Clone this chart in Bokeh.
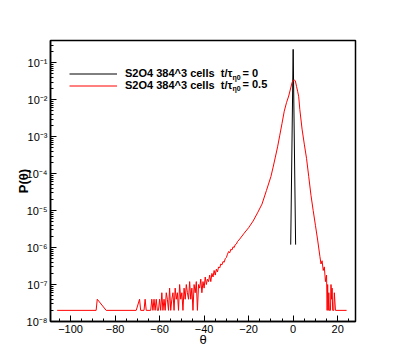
from bokeh.plotting import figure
from bokeh.models import (FixedTicker, CustomJSTickFormatter, Legend, LegendItem, Label)
from bokeh.embed import file_html
from bokeh.resources import INLINE

# ---------------- data ----------------
# t/tau = 0 : initial (delta-like) PDF
theta_t0 = [-1.1, 0.0, 1.1]
p_t0 = [1.2e-6, 2.3e-1, 1.2e-6]

# t/tau = 0.5 : evolved PDF
theta_t05 = [
    -106.0, -88.5, -88.0, -84.0, -70.5, -69.0, -68.5, -67.0, -66.5, -66.0,
    -64.0, -63.5, -63.0, -62.5,
    -62.0, -61.5, -61.0, -60.5, -60.0, -59.5, -59.0, -58.5, -58.0, -57.5,
    -57.0, -56.5, -56.0, -55.5, -55.0, -54.5, -54.0, -53.5, -53.0, -52.5,
    -52.0, -51.5, -51.0, -50.5, -50.0, -49.5, -49.0, -48.5, -48.0, -47.5,
    -47.0, -46.5, -46.0, -45.5, -45.0, -44.5, -44.0, -43.5, -43.0, -42.5,
    -42.0, -41.5, -41.0, -40.5, -40.0, -39.5, -39.0, -38.5, -38.0, -37.5,
    -37.0, -36.5, -36.0, -35.5, -35.0, -34.5, -34.0, -33.5, -33.0, -32.5,
    -32.0, -31.5, -31.0, -30.5, -30.0, -29.5, -29.0, -28.5, -28.0, -27.5,
    -27.0, -26.5, -26.0, -25.5, -25.0, -24.0, -22.0, -20.0, -18.0, -16.0,
    -14.0, -12.0, -10.0, -9.0, -8.0, -7.0, -6.0, -5.0, -4.0, -3.0,
    -2.0, -1.0, -0.5, 0.0, 0.5, 1.0, 1.5, 2.0, 2.5, 3.0,
    4.0, 5.0, 6.0, 7.0, 8.0, 9.0, 10.0, 11.0, 12.0, 12.5,
    13.0, 13.5, 14.0, 14.5, 15.0, 15.25, 15.5, 15.75, 16.0, 16.25,
    16.75, 17.0, 17.25, 17.5, 17.75, 18.25, 18.5, 19.0, 24.0,
]
p_t05 = [
    2e-8, 2e-8, 4e-8, 2e-8, 2e-8, 4e-8, 2e-8, 2e-8, 4e-8, 2e-8,
    2e-8, 4e-8, 2e-8, 4e-8,
    2e-8, 4e-8, 2e-8, 2e-8, 4e-8, 2e-8, 6e-8, 2e-8, 4e-8, 2e-8,
    6e-8, 4e-8, 2e-8, 8e-8, 2e-8, 4e-8, 6e-8, 2e-8, 8e-8, 4e-8,
    6e-8, 2e-8, 1e-7, 4e-8, 6e-8, 2e-8, 8e-8, 4e-8, 1e-7, 6e-8,
    4e-8, 1.2e-7, 4e-8, 8e-8, 2e-8, 1e-7, 6e-8, 1.2e-7, 2e-8, 1e-7,
    8e-8, 1.4e-7, 6e-8, 1.2e-7, 8e-8, 1.6e-7, 1e-7, 1.4e-7, 1.2e-7, 1.8e-7,
    1.2e-7, 2e-7, 1.6e-7, 2.4e-7, 1.8e-7, 2.6e-7, 2.2e-7, 3e-7, 2.8e-7, 3.6e-7,
    3.4e-7, 4.2e-7, 4e-7, 5e-7, 5.4e-7, 6.6e-7, 7.8e-7, 7.2e-7, 9e-7, 8.6e-7,
    1.05e-6, 1.0e-6, 1.2e-6, 1.25e-6, 1.45e-6, 1.7e-6, 2.45e-6, 3.45e-6, 5.2e-6, 8.7e-6,
    1.5e-5, 3.5e-5, 8.3e-5, 1.5e-4, 2.8e-4, 5.3e-4, 1.1e-3, 2.3e-3, 4.9e-3, 8.3e-3,
    1.26e-2, 2.2e-2, 2.9e-2, 3.3e-2, 3.45e-2, 3.2e-2, 2.3e-2, 1.7e-2, 1.2e-2, 5.4e-3,
    1.6e-3, 6.3e-4, 2.6e-4, 8.3e-5, 2.6e-5, 1e-5, 4e-6, 1.6e-6, 5.8e-7, 3.6e-7,
    4.4e-7, 2.4e-7, 3.0e-7, 1.2e-7, 1.8e-7, 2e-8, 1e-7, 2e-8, 6e-8, 2e-8,
    2e-8, 1e-7, 4e-8, 8e-8, 2e-8, 2e-8, 6e-8, 2e-8, 2e-8,
]

x_ticks = [-100, -80, -60, -40, -20, 0, 20]
y_ticks = [1e-8, 1e-7, 1e-6, 1e-5, 1e-4, 1e-3, 1e-2, 1e-1]
series_labels = ["S2O4 384^3 cells  t/\u03c4", "S2O4 384^3 cells  t/\u03c4"]
series_subs = ["\u03b70", "\u03b70"]
series_times = ["= 0", "= 0.5"]

FONT = "Liberation Sans"

p = figure(width=390, height=354, x_range=(-109, 28), y_range=(1e-8, 0.4),
           y_axis_type="log", output_backend="svg", toolbar_location=None,
           min_border_left=50, min_border_right=35, min_border_top=40,
           min_border_bottom=33)
p.grid.visible = False
p.outline_line_color = "black"
p.outline_line_width = 1.5
p.background_fill_color = "white"
p.border_fill_color = "white"

r0 = p.line(theta_t0, p_t0, line_color="black", line_width=1)
r1 = p.line(theta_t05, p_t05, line_color="#ff0000", line_width=1)

# x axis
xa = p.xaxis[0]
xa.ticker = FixedTicker(ticks=x_ticks,
                        minor_ticks=list(range(-105, 30, 5)))
xa.axis_label = "\u03b8"
xa.axis_label_text_font = FONT
xa.axis_label_text_font_size = "13px"
xa.axis_label_text_font_style = "normal"
xa.axis_label_standoff = -4

# y axis
ya = p.yaxis[0]
ya.ticker = FixedTicker(ticks=y_ticks,
                        minor_ticks=[k * t for t in y_ticks for k in range(2, 10)])
ya.formatter = CustomJSTickFormatter(code="""
const sup = {'-':'\u207b','0':'\u2070','1':'\u00b9','2':'\u00b2','3':'\u00b3','4':'\u2074','5':'\u2075','6':'\u2076','7':'\u2077','8':'\u2078','9':'\u2079'};
const e = Math.round(Math.log10(tick));
return '10' + String(e).split('').map(c => sup[c]).join('');
""")
ya.axis_label = "P(\u03b8)"
ya.axis_label_text_font = FONT
ya.axis_label_text_font_size = "13px"
ya.axis_label_text_font_style = "bold"
ya.axis_label_standoff = -7

for ax in (xa, ya):
    ax.axis_line_color = "black"
    ax.axis_line_width = 1.5
    ax.major_tick_in = 6
    ax.major_tick_out = 0
    ax.minor_tick_in = 3
    ax.minor_tick_out = 0
    ax.major_tick_line_color = "black"
    ax.minor_tick_line_color = "black"
    ax.major_label_text_font = FONT
    ax.major_label_text_font_size = "11px"
    ax.major_label_text_color = "black"
    ax.axis_label_text_color = "black"
    ax.major_label_standoff = 3

legend = Legend(items=[LegendItem(label=series_labels[0], renderers=[r0]),
                       LegendItem(label=series_labels[1], renderers=[r1])],
                location=(19, 230), orientation="vertical",
                glyph_width=48, glyph_height=11, label_height=11,
                label_standoff=8, spacing=0, padding=0, margin=0,
                border_line_alpha=0, background_fill_alpha=0,
                label_text_font=FONT, label_text_font_size="11px",
                label_text_font_style="bold", label_text_color="black")
p.add_layout(legend)

rows_y = [249, 238]
for i in range(2):
    p.add_layout(Label(x=182, y=rows_y[i] - 5, x_units="screen", y_units="screen",
                       text=series_subs[i], text_font=FONT, text_font_size="7px",
                       text_font_style="bold", text_baseline="middle",
                       text_color="black"))
    p.add_layout(Label(x=192, y=rows_y[i], x_units="screen", y_units="screen",
                       text=series_times[i], text_font=FONT, text_font_size="11px",
                       text_font_style="bold", text_baseline="middle",
                       text_color="black"))

open("out.html", "w").write(file_html(p, INLINE))
